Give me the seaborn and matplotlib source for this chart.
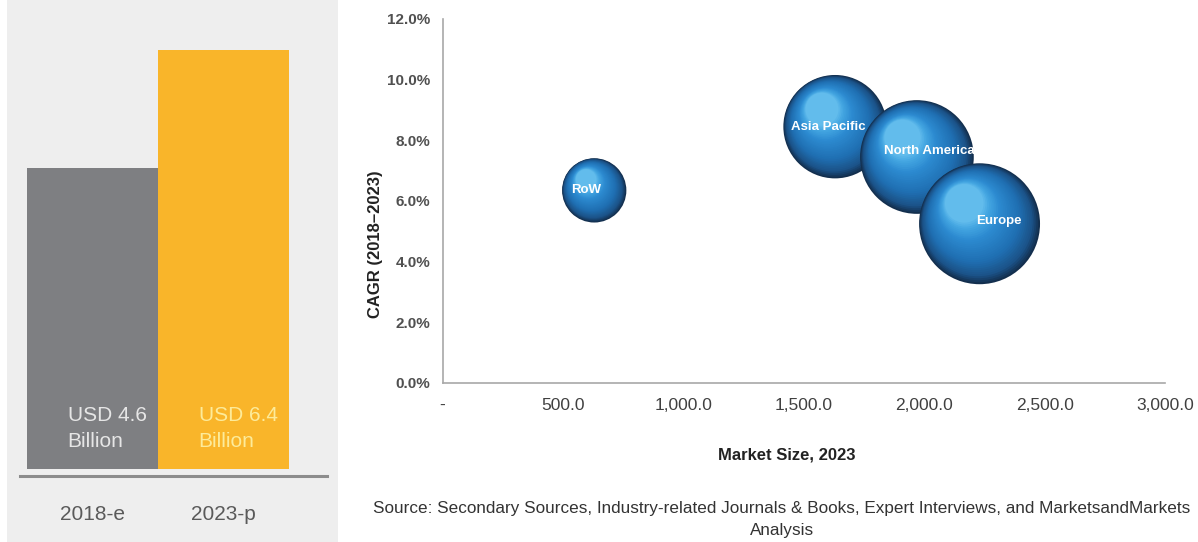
import numpy as np
import pandas as pd
import matplotlib
matplotlib.use("Agg")
import matplotlib.pyplot as plt
import matplotlib.transforms as mtransforms
from matplotlib.colors import LinearSegmentedColormap
from matplotlib.patches import Rectangle
import seaborn as sns

# ---------------- data ----------------
bar_years = ["2018-e", "2023-p"]
bar_values = [4.6, 6.4]
bar_labels = ["USD 4.6\nBillion", "USD 6.4\nBillion"]

regions = ["RoW", "Asia Pacific", "North America", "Europe"]
market_size = [630, 1630, 1970, 2230]
cagr = [6.35, 8.45, 7.45, 5.25]

x_ticks = [0, 500, 1000, 1500, 2000, 2500, 3000]
y_ticks = [0, 2, 4, 6, 8, 10, 12]

source_line1 = "Source: Secondary Sources, Industry-related Journals & Books, Expert Interviews, and MarketsandMarkets"
source_line2 = "Analysis"

# ---------------- style ----------------
sns.set_theme(style="white")
plt.rcParams["font.family"] = ["Liberation Sans", "DejaVu Sans"]

W, H = 1198, 542
fig = plt.figure(figsize=(W / 100, H / 100), dpi=100)
fig.patch.set_facecolor("white")

# left panel background
bg = Rectangle((7 / W, 0), (338 - 7) / W, 1, transform=fig.transFigure,
               facecolor="#eeeeee", edgecolor="none", zorder=-5)
fig.patches.append(bg)

# ---------------- left bar panel ----------------
axL = fig.add_axes([20 / W, (H - 476) / H, 307 / W, 446 / H])
axL.set_zorder(2)
axL.set_facecolor("none")
df_bar = pd.DataFrame({"year": bar_years, "value": bar_values})
sns.barplot(data=df_bar, x="year", y="value", hue="year", palette=["#7e7f82", "#f9b52a"],
            width=1.0, saturation=1, legend=False, ax=axL, linewidth=0)
axL.set_xlim(-0.553, 1.79)
axL.set_ylim(-0.107, 6.7)
for s in ["top", "right", "left"]:
    axL.spines[s].set_visible(False)
axL.spines["bottom"].set_color("#8c8c8c")
axL.spines["bottom"].set_linewidth(2.2)
axL.set_yticks([])
axL.set_xlabel("")
axL.set_ylabel("")
axL.tick_params(axis="x", length=0, pad=21, labelsize=15, labelcolor="#5a5a5a")
label_colors = ["#e6e6e6", "#fdeb9a"]
for i, (lab, col) in enumerate(zip(bar_labels, label_colors)):
    axL.text(i - 0.19, 0.62, lab, ha="left", va="center", fontsize=15,
             color=col, linespacing=1.45)

# ---------------- right bubble chart ----------------
axR = fig.add_axes([442.5 / W, (H - 383) / H, 722.5 / W, 364 / H])
axR.set_zorder(2)
axR.set_xlim(0, 3000)
axR.set_ylim(0, 12)

size_k = 3.4  # points^2 per unit of market size
cmap = LinearSegmentedColormap.from_list(
    "sphere", [(0.0, "#132f4e"), (0.12, "#1b5287"), (0.35, "#1f6fb2"),
               (0.7, "#2c8ad0"), (0.9, "#45a7e2"), (1.0, "#62bcec")])
N = 32
label_dx = [-6, -5, 9, 14]
label_dy = [0, 0, 4, 2]

for i, (reg, mx, cy) in enumerate(zip(regions, market_size, cagr)):
    s0 = mx * size_k
    r_pt = np.sqrt(s0) / 2
    base_z = 10 + i * (N + 2)
    df_b = pd.DataFrame({"x": [mx], "y": [cy]})
    sns.scatterplot(data=df_b, x="x", y="y", s=s0, color=cmap(0.0), edgecolor="none",
                    linewidth=0, ax=axR, zorder=base_z, legend=False)
    for k in range(1, N):
        t = k / (N - 1)
        f = 1 - 0.68 * t
        off = (1 - f) * r_pt * 0.62
        tr = mtransforms.offset_copy(axR.transData, fig=fig, x=-off * 0.6, y=off * 0.8, units="points")
        axR.scatter([mx], [cy], s=s0 * f * f, color=cmap(t), edgecolor="none", linewidth=0,
                    transform=tr, zorder=base_z + k)
    axR.annotate(reg, (mx, cy), xytext=(label_dx[i], label_dy[i]), textcoords="offset points",
                 ha="center", va="center", color="white", fontsize=9.5, fontweight="bold",
                 zorder=base_z + N + 1)

axR.set_xticks(x_ticks)
axR.set_xticklabels(["-" if v == 0 else f"{v:,.1f}" for v in x_ticks])
axR.set_yticks(y_ticks)
axR.set_yticklabels([f"{v:.1f}%" for v in y_ticks])
for s in ["top", "right"]:
    axR.spines[s].set_visible(False)
for s in ["left", "bottom"]:
    axR.spines[s].set_color("#a8a8a8")
    axR.spines[s].set_linewidth(1.2)
axR.tick_params(axis="both", which="major", direction="out", length=5, width=1, color="#a8a8a8")
axR.tick_params(axis="x", labelsize=12.5, labelcolor="#404040", pad=6)
axR.tick_params(axis="y", labelsize=11, labelcolor="#505050", pad=4)
for t in axR.get_yticklabels():
    t.set_fontweight("bold")

axR.set_xlabel("Market Size, 2023", fontsize=12, fontweight="bold", color="#222222")
axR.set_ylabel("CAGR (2018\u20132023)", fontsize=12, fontweight="bold", color="#222222")
axR.xaxis.set_label_coords(0.476, -0.176)
axR.yaxis.set_label_coords(-0.082, 0.38)

fig.text(782 / W, (H - 508) / H, source_line1, ha="center", va="center", fontsize=12.3, color="#333333")
fig.text(782 / W, (H - 531) / H, source_line2, ha="center", va="center", fontsize=12.3, color="#333333")

fig.savefig("out.png", dpi=100, facecolor="white")
